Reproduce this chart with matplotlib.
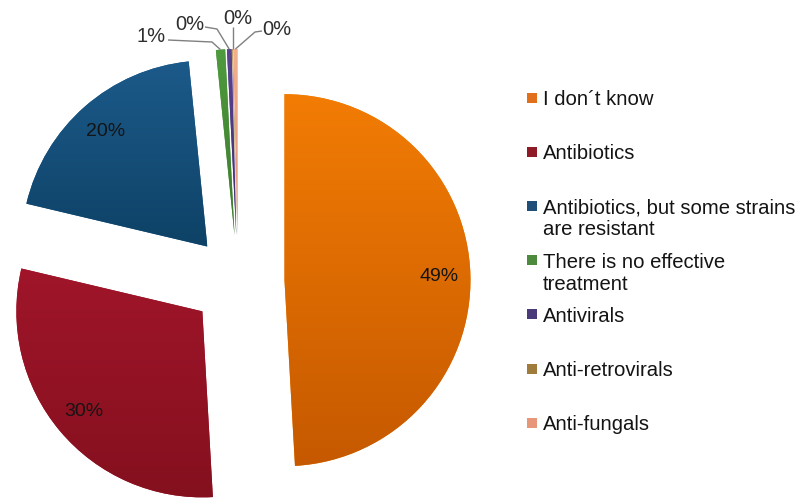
import numpy as np
import matplotlib
matplotlib.use("Agg")
import matplotlib.pyplot as plt
from matplotlib.colors import LinearSegmentedColormap
from matplotlib.patches import Rectangle

# ---- data ----
categories = [
    "I don\u00b4t know",
    "Antibiotics",
    "Antibiotics, but some strains\nare resistant",
    "There is no effective\ntreatment",
    "Antivirals",
    "Anti-retrovirals",
    "Anti-fungals",
]
shares = [49.1, 29.6, 19.7, 0.8, 0.4, 0.05, 0.35]

# slice shading: lighter at the top of each slice, darker at the bottom
top_colors = ["#F27C04", "#A0152A", "#1C5A8A", "#4F9A3E", "#5A4490", "#B08A45", "#F2B08E"]
bottom_colors = ["#C65900", "#84101E", "#0E4266", "#3C7A2E", "#3E2C6E", "#8C6A30", "#E09072"]
legend_colors = ["#E2701A", "#8E1A25", "#1F4E79", "#4E8A3E", "#4B3A7A", "#A07C3C", "#E8967A"]

# ---- layout (pixels) ----
W, H = 804, 502
PX = 186.0             # pixels per pie radius
CX, CY = 238.0, 282.5  # pie centre, pixels from top-left


def to_data(px, py):
    return (px - CX) / PX, (CY - py) / PX


plt.rcParams["font.family"] = ["Liberation Sans", "DejaVu Sans"]

fig = plt.figure(figsize=(W / 100, H / 100), dpi=100)
ax = fig.add_axes([0, 0, 1, 1])


def pct_label(p):
    return f"{p:.0f}%" if p >= 5 else ""


wedges, texts, autotexts = ax.pie(
    shares,
    startangle=90,
    counterclock=False,
    explode=[0.25] * len(shares),
    radius=1.0,
    colors=top_colors,
    autopct=pct_label,
    pctdistance=0.83,
    textprops=dict(fontsize=14, color="#141414"),
    wedgeprops=dict(linewidth=0),
)

# vertical gradient fill clipped to every slice
grad = np.linspace(0, 1, 256).reshape(-1, 1)
for w, c0, c1 in zip(wedges, top_colors, bottom_colors):
    v = w.get_path().vertices
    x0, x1 = v[:, 0].min(), v[:, 0].max()
    y0, y1 = v[:, 1].min(), v[:, 1].max()
    cmap = LinearSegmentedColormap.from_list("shade", [c0, c1])
    im = ax.imshow(grad, cmap=cmap, extent=(x0, x1, y0, y1), origin="upper",
                   aspect="auto", interpolation="bilinear", zorder=w.get_zorder() + 0.1)
    im.set_clip_path(w)

for t in autotexts:
    t.set_zorder(5)

# outside labels with leader lines for the thin slices
small = [3, 4, 5, 6]
label_pos = [(151, 36), (190, 24), (238, 18), (277, 29)]
line_start = [(168, 41), (205, 28), None, (262, 32)]
elbows = [(212, 43), (217, 30), None, (255, 33)]
for idx, lp, ls, el in zip(small, label_pos, line_start, elbows):
    w = wedges[idx]
    mid = np.deg2rad((w.theta1 + w.theta2) / 2)
    tip = (w.center[0] + w.r * np.cos(mid), w.center[1] + w.r * np.sin(mid))
    if ls is None:
        pts = [(tip[0], to_data(0, 28)[1]), tip]
    else:
        pts = [to_data(*ls), to_data(*el), tip]
    xs, ys = zip(*pts)
    ax.plot(xs, ys, color="#808080", lw=1.0, zorder=4, solid_capstyle="butt")
    tx, ty = to_data(*lp)
    ax.text(tx, ty, f"{shares[idx]:.0f}%", fontsize=14.5, color="#2e2e2e",
            ha="center", va="center", zorder=5)

ax.set_xlim(to_data(0, 0)[0], to_data(W, 0)[0])
ax.set_ylim(to_data(0, H)[1], to_data(0, 0)[1])
ax.set_aspect("auto")
ax.axis("off")

# legend
leg_x_box = 527
leg_x_text = 543
leg_y0 = 98.5
leg_step = 54.2
line_gap = 22.0
box = 10
for i, (lab, col) in enumerate(zip(categories, legend_colors)):
    yc = leg_y0 + i * leg_step
    fig.patches.append(Rectangle((leg_x_box / W, 1 - (yc + box / 2) / H), box / W, box / H,
                                 transform=fig.transFigure, facecolor=col, edgecolor="none"))
    for j, line in enumerate(lab.split("\n")):
        yb = yc + 6.5 + j * line_gap
        fig.text(leg_x_text / W, 1 - yb / H, line, fontsize=14.6, color="#141414",
                 ha="left", va="baseline")

fig.savefig("out.png", dpi=100)
